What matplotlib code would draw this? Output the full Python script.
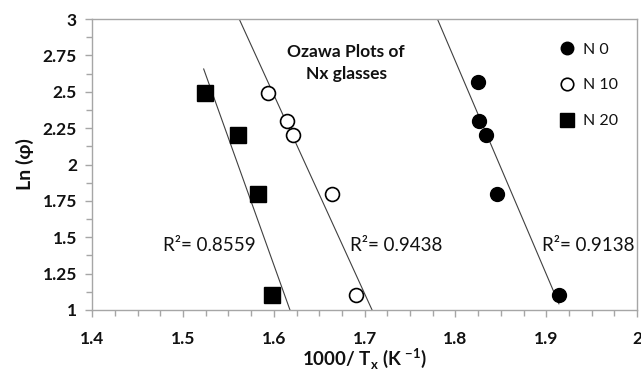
import numpy as np
import matplotlib
matplotlib.use("Agg")
import matplotlib.pyplot as plt
from matplotlib.ticker import MultipleLocator

plt.rcParams['font.family'] = ['Lato', 'DejaVu Sans']
plt.rcParams['mathtext.fontset'] = 'custom'
plt.rcParams['mathtext.rm'] = 'Lato'
plt.rcParams['mathtext.bf'] = 'Lato:bold'

# Data
n0_x = [1.825, 1.826, 1.834, 1.846, 1.914]
n0_y = [2.565, 2.30, 2.20, 1.80, 1.10]
n10_x = [1.594, 1.614, 1.621, 1.664, 1.690]
n10_y = [2.49, 2.30, 2.20, 1.80, 1.10]
n20_x = [1.524, 1.561, 1.582, 1.598]
n20_y = [2.49, 2.20, 1.80, 1.10]
r2_labels = ["R²= 0.8559", "R²= 0.9438", "R²= 0.9138"]
x_ticks = [1.4, 1.5, 1.6, 1.7, 1.8, 1.9, 2.0]
x_ticklabels = ["1.4", "1.5", "1.6", "1.7", "1.8", "1.9", "2"]
y_ticks = [1, 1.25, 1.5, 1.75, 2, 2.25, 2.5, 2.75, 3]
y_ticklabels = ["1", "1.25", "1.5", "1.75", "2", "2.25", "2.5", "2.75", "3"]

fig = plt.figure(figsize=(6.41, 3.72), dpi=100)
ax = fig.add_axes([92.3/641, 1-310/372, (637-92.3)/641, (310-19)/372])

spine_c = '#a6a6a6'
text_c = '#111111'
line_c = '#404040'

# trend lines (least squares y on x), drawn over chosen x spans and clipped by axes
spans = [(n20_x, n20_y, 1.5227, 1.63), (n10_x, n10_y, 1.55, 1.72), (n0_x, n0_y, 1.77, 1.914)]
for xs, ys, a, b in spans:
    k, c = np.polyfit(xs, ys, 1)
    xx = np.array([a, b])
    ax.plot(xx, k*xx + c, color=line_c, lw=0.8, zorder=2)

ax.plot(n0_x, n0_y, 'o', color='black', ms=10, ls='none', label='N 0', zorder=3)
ax.plot(n10_x, n10_y, 'o', mfc='white', mec='black', mew=1.2, ms=10, ls='none', label='N 10', zorder=3)
ax.plot(n20_x, n20_y, 's', color='black', ms=11, ls='none', label='N 20', zorder=3)

ax.set_xlim(1.4, 2.0)
ax.set_ylim(1, 3)
ax.set_xticks(x_ticks)
ax.set_xticklabels(x_ticklabels)
ax.set_yticks(y_ticks)
ax.set_yticklabels(y_ticklabels)
ax.xaxis.set_minor_locator(MultipleLocator(0.025))
ax.yaxis.set_minor_locator(MultipleLocator(0.125))
for s in ax.spines.values():
    s.set_color(spine_c)
    s.set_linewidth(1.0)
ax.tick_params(which='major', direction='out', length=5, color=spine_c, width=1,
               labelsize=12.5, labelcolor=text_c, pad=4)
ax.tick_params(which='minor', direction='out', length=4, color=spine_c, width=1)
for lab in ax.get_xticklabels() + ax.get_yticklabels():
    lab.set_fontweight('bold')
ax.tick_params(axis='x', pad=10)
ax.tick_params(axis='y', pad=6)

ax.set_xlabel("1000/ T$_\\mathbf{x}$ (K $^{\\mathbf{-1}}$)", fontsize=13.5, fontweight='bold', color=text_c, labelpad=0)
ax.set_ylabel("Ln (φ)", fontsize=14, fontweight='bold', color=text_c, labelpad=6)

ax.text(1.6797, 2.70, "Ozawa Plots of\nNx glasses", ha='center', va='center',
        fontsize=12.5, fontweight='bold', color=text_c, linespacing=1.45)

r2_pos = [(1.529, 1.44), (1.7346, 1.44), (1.946, 1.44)]
for (px, py), t in zip(r2_pos, r2_labels):
    ax.text(px, py, t, ha='center', va='center', fontsize=13.5, color=text_c)

leg = ax.legend(loc='upper left', bbox_to_anchor=(559.4/641, 1-42.5/372),
                bbox_transform=fig.transFigure, frameon=False, fontsize=11.5,
                handlelength=1.0, handletextpad=0.45, borderpad=0, borderaxespad=0,
                labelspacing=1.35, markerscale=0.9)
for t in leg.get_texts():
    t.set_color(text_c)

fig.savefig("out.png", dpi=100)
